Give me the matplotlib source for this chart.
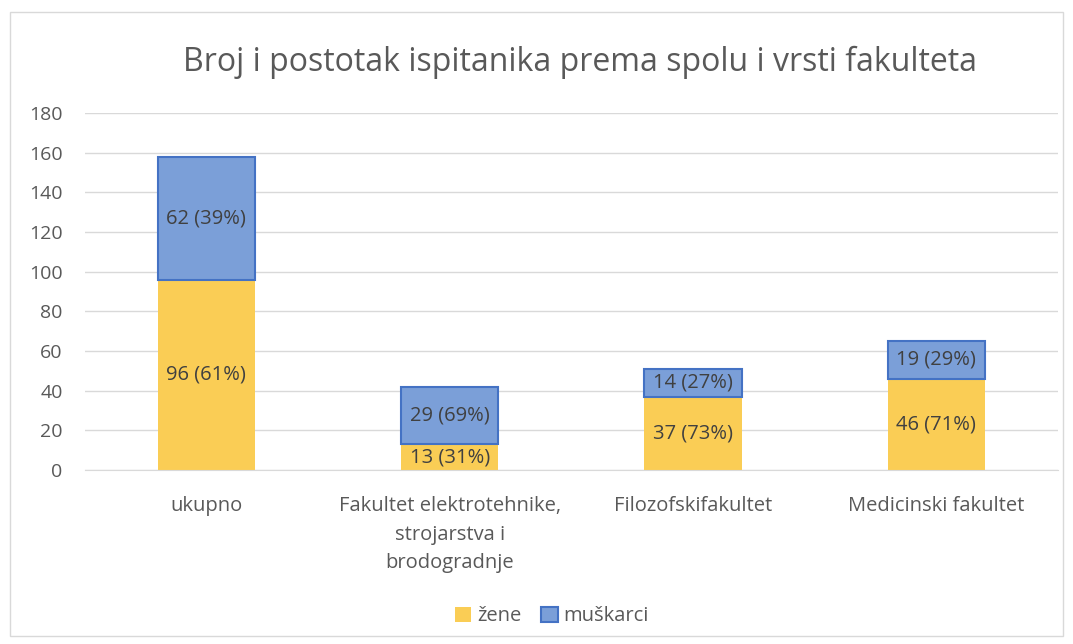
import matplotlib.pyplot as plt
import numpy as np
from matplotlib.patches import Rectangle

plt.rcParams['font.family'] = ['Open Sans', 'DejaVu Sans']

categories = ['ukupno', 'Fakultet elektrotehnike,\nstrojarstva i\nbrodogradnje',
              'Filozofskifakultet', 'Medicinski fakultet']
zene = [96, 13, 37, 46]
muskarci = [62, 29, 14, 19]
zene_pct = [61, 31, 73, 71]
muskarci_pct = [39, 69, 27, 29]

yellow = '#FACD55'
blue_fill = '#7B9FD8'
blue_edge = '#4472C4'
txt = '#404040'
grey = '#595959'

fig = plt.figure(figsize=(10.73, 6.44), dpi=100)
ax = fig.add_axes([0.079, 0.2702, 0.907, 0.5543])

x = np.arange(len(categories))
w = 0.4
ax.bar(x, zene, w, color=yellow, label='žene', zorder=2)
ax.bar(x, muskarci, w, bottom=zene, color=blue_fill, edgecolor=blue_edge,
       linewidth=1.5, label='muškarci', zorder=2)

for i in range(len(x)):
    ax.text(x[i], zene[i] / 2, f'{zene[i]} ({zene_pct[i]}%)', ha='center', va='center',
            fontsize=14.5, color=txt, zorder=3)
    ax.text(x[i], zene[i] + muskarci[i] / 2, f'{muskarci[i]} ({muskarci_pct[i]}%)',
            ha='center', va='center', fontsize=14.5, color=txt, zorder=3)

ax.set_xlim(-0.5, len(x) - 0.5)
ax.set_ylim(0, 180)
ax.set_yticks(range(0, 181, 20))
ax.grid(axis='y', color='#D9D9D9', linewidth=1, zorder=0)
for s in ['top', 'right', 'left']:
    ax.spines[s].set_visible(False)
ax.spines['bottom'].set_color('#D9D9D9')
ax.tick_params(axis='y', length=0, labelsize=14, colors=grey, pad=16)
ax.tick_params(axis='x', length=0, labelsize=14.5, colors=grey, pad=19)
ax.set_xticks(x)
ax.set_xticklabels(categories, linespacing=1.55)

fig.text(0.541, 0.903, 'Broj i postotak ispitanika prema spolu i vrsti fakulteta',
         ha='center', va='center', fontsize=23, color=grey)

ax.legend(loc='center', bbox_to_anchor=(0.48, -0.41), ncol=2, frameon=False,
          fontsize=14.5, labelcolor=grey, handlelength=0.8, handleheight=0.8,
          handletextpad=0.3, columnspacing=1.0)

fig.patches.append(Rectangle((0.009, 0.012), 0.982, 0.97, transform=fig.transFigure,
                             fill=False, edgecolor='#D9D9D9', linewidth=1))

plt.savefig('out.png', dpi=100)
